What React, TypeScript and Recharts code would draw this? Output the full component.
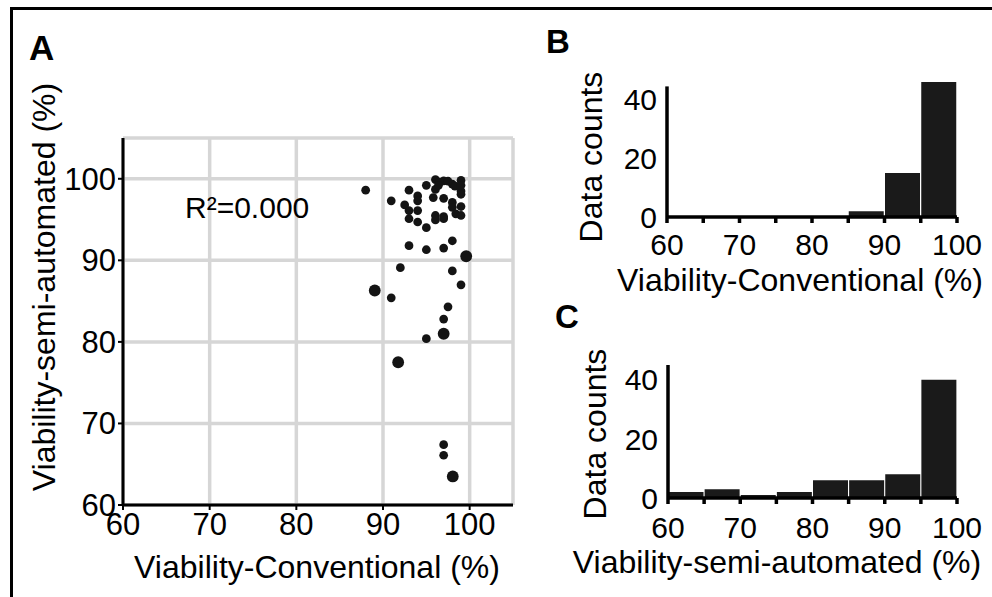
import { ScatterChart, Scatter, BarChart, Bar, XAxis, YAxis, ZAxis, CartesianGrid, ReferenceLine } from 'recharts';

const FONT = '"Liberation Sans", Arial, Helvetica, sans-serif';

// panel A: each point is one sample, conventional vs semi-automated viability (%)
const conventional = [
  88.0, 90.95, 93.0, 95.0, 96.05, 97.0, 98.0, 99.0, 96.05, 94.0,
  94.0, 95.8, 97.0, 99.0, 99.0, 98.0, 92.5, 93.0, 94.0, 98.0,
  99.0, 98.4, 99.0, 96.05, 97.0, 96.05, 97.0, 93.0, 94.0, 95.0,
  93.0, 95.0, 97.0, 98.0, 99.6, 92.0, 98.0, 89.05, 90.95, 99.0,
  97.5, 97.0, 97.0, 95.0, 91.75, 97.0, 97.0, 98.05, 96.5, 97.5,
  96.4, 98.3, 99.0,
];
const semiAutomated = [
  98.6, 97.3, 98.6, 99.2, 99.9, 99.75, 99.35, 99.8, 98.7, 97.9,
  97.3, 97.7, 97.6, 98.5, 98.1, 97.1, 96.8, 96.1, 96.1, 96.5,
  96.6, 95.7, 95.5, 95.5, 95.35, 94.95, 95.1, 95.1, 94.7, 94.0,
  91.8, 91.3, 91.5, 92.4, 90.5, 89.1, 88.7, 86.3, 85.4, 87.0,
  84.3, 82.8, 81.0, 80.4, 77.5, 67.4, 66.1, 63.5, 99.6, 99.7,
  99.2, 99.1, 99.2,
];
// 1 = normal dot, 2 = bigger dot (overlapping samples)
const dotWeight = [
  1, 1, 1, 1, 1, 1, 1, 1, 1, 1,
  1, 1, 1, 1, 1, 1, 1, 1, 1, 1,
  1, 1, 1, 1, 1, 1, 1, 1, 1, 1,
  1, 1, 1, 1, 2, 1, 1, 2, 1, 1,
  1, 1, 2, 1, 2, 1, 1, 2, 1, 1,
  1, 1, 1,
];
const scatterTicks = [60, 70, 80, 90, 100];

// panels B and C: histograms in 5% bins
const binStarts = [60, 65, 70, 75, 80, 85, 90, 95];
const binWidth = 5;
const countsConventional = [0, 0, 0, 0, 0, 2, 15, 46];
const countsSemiAutomated = [2, 3, 1, 2, 6, 6, 8, 40];
const histTicks = [60, 65, 70, 75, 80, 85, 90, 95, 100];
const countTicks = [0, 20, 40];

const scatterData = conventional.map((x, i) => ({ x, y: semiAutomated[i], z: dotWeight[i] }));
const histData = binStarts.map((start, i) => ({
  mid: start + binWidth / 2,
  conventional: countsConventional[i],
  semi: countsSemiAutomated[i],
}));

const tickStyle = { fill: '#000', fontSize: 31, fontFamily: FONT };
const histTickStyle = { fill: '#000', fontSize: 30, fontFamily: FONT };
const histTickFmt = (v: number) => (v % 10 === 0 ? String(v) : '');

function Histogram({ dataKey, yMax, axisTop, width, height, margin, yWidth, xMargin }: any) {
  return (
    <BarChart width={width} height={height} data={histData} margin={margin} barCategoryGap={0.5} barGap={0}>
      <XAxis
        type="number"
        dataKey="mid"
        domain={[60, 100]}
        ticks={histTicks}
        tickFormatter={histTickFmt}
        height={40}
        axisLine={{ stroke: '#000', strokeWidth: 3.5 }}
        tickLine={{ stroke: '#000', strokeWidth: 3.5 }}
        tickSize={6}
        tickMargin={xMargin}
        tick={histTickStyle}
        interval={0}
      />
      <YAxis
        type="number"
        domain={[0, yMax]}
        ticks={countTicks}
        width={yWidth}
        axisLine={false}
        tickLine={false}
        tickSize={0}
        tickMargin={10}
        tick={histTickStyle}
      />
      <Bar dataKey={dataKey} fill="#1a1a1a" isAnimationActive={false} />
      <ReferenceLine
        segment={[{ x: 60, y: 0 }, { x: 60, y: axisTop }]}
        stroke="#000"
        strokeWidth={3.5}
      />
    </BarChart>
  );
}

export default function App() {
  const txt = { fontFamily: FONT, fill: '#000' };
  return (
    <div style={{ position: 'absolute', left: 0, top: 0, width: 992, height: 597, background: '#fff', overflow: 'hidden' }}>
      <div
        style={{
          position: 'absolute',
          left: 10,
          top: 7,
          width: 982,
          height: 590,
          borderTop: '3px solid #000',
          borderLeft: '3px solid #000',
          boxSizing: 'border-box',
        }}
      />

      <div style={{ position: 'absolute', left: 0, top: 0 }}>
        <ScatterChart width={540} height={597} margin={{ top: 138, right: 27, left: 0, bottom: 62 }}>
          <CartesianGrid stroke="#d6d6d6" strokeWidth={3.5} />
          <XAxis
            type="number"
            dataKey="x"
            domain={[60, 105]}
            ticks={scatterTicks}
            height={30}
            axisLine={{ stroke: '#000', strokeWidth: 3 }}
            tickLine={{ stroke: '#000', strokeWidth: 2 }}
            tickSize={5}
            tickMargin={3}
            tick={tickStyle}
          />
          <YAxis
            type="number"
            dataKey="y"
            domain={[60, 105]}
            ticks={scatterTicks}
            width={123}
            axisLine={{ stroke: '#000', strokeWidth: 3 }}
            tickLine={{ stroke: '#000', strokeWidth: 2 }}
            tickSize={5}
            tickMargin={2}
            tick={tickStyle}
          />
          <ZAxis type="number" dataKey="z" domain={[1, 2]} range={[60, 110]} />
          <Scatter data={scatterData} fill="#141414" isAnimationActive={false} />
        </ScatterChart>
      </div>

      <div style={{ position: 'absolute', left: 540, top: 0 }}>
        <Histogram
          dataKey="conventional"
          yMax={46}
          axisTop={44.5}
          width={452}
          height={300}
          margin={{ top: 82, right: 35, left: 0, bottom: 43 }}
          yWidth={127}
          xMargin={11}
        />
      </div>

      <div style={{ position: 'absolute', left: 540, top: 300 }}>
        <Histogram
          dataKey="semi"
          yMax={45}
          axisTop={45}
          width={452}
          height={297}
          margin={{ top: 65, right: 35, left: 0, bottom: 59 }}
          yWidth={128}
          xMargin={13}
        />
      </div>

      <svg width={992} height={597} style={{ position: 'absolute', left: 0, top: 0, pointerEvents: 'none' }}>
        <text x={29} y={60} fontSize={35} fontWeight="bold" {...txt}>A</text>
        <text x={546} y={53} fontSize={33} fontWeight="bold" {...txt}>B</text>
        <text x={555} y={328} fontSize={33} fontWeight="bold" {...txt}>C</text>

        <text x={185} y={218} fontSize={30} {...txt}>R²=0.000</text>

        <text x={317} y={578} fontSize={32} textAnchor="middle" {...txt}>Viability-Conventional (%)</text>
        <text x={44} y={287} fontSize={32} textAnchor="middle" dominantBaseline="central" transform="rotate(-90 44 287)" {...txt}>
          Viability-semi-automated (%)
        </text>

        <text x={800} y={291} fontSize={32} textAnchor="middle" {...txt}>Viability-Conventional (%)</text>
        <text x={591} y={157} fontSize={32} textAnchor="middle" dominantBaseline="central" transform="rotate(-90 591 157)" {...txt}>
          Data counts
        </text>

        <text x={777} y={573} fontSize={32} textAnchor="middle" {...txt}>Viability-semi-automated (%)</text>
        <text x={595} y={434} fontSize={32} textAnchor="middle" dominantBaseline="central" transform="rotate(-90 595 434)" {...txt}>
          Data counts
        </text>
      </svg>
    </div>
  );
}
